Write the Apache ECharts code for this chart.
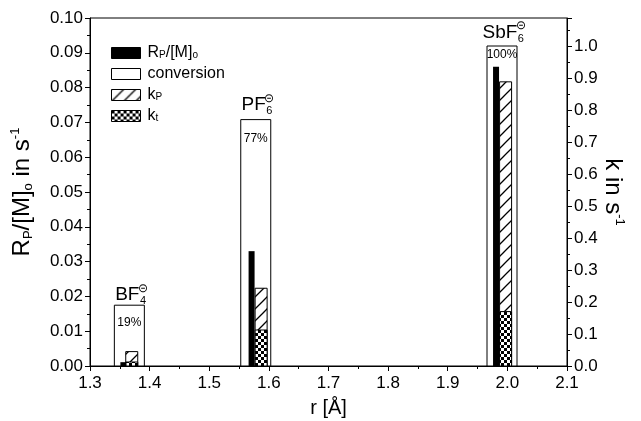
<!DOCTYPE html>
<html><head><meta charset="utf-8">
<script src="https://cdn.jsdelivr.net/npm/echarts@6/dist/echarts.min.js"></script>
<style>html,body{margin:0;padding:0;background:#fff}#c{width:641px;height:421px}</style>
</head><body><div id="c"></div>
<script>
// ---- data ----
const ionBase = ['BF', 'PF', 'SbF'];
const ionSub = ['4', '6', '6'];
const rConv = [1.366, 1.578, 1.991];        // conversion box positions (r in Å)
const conversion = [0.19, 0.77, 1.00];     // conversion (fraction, right axis)
const convLabels = ['19%', '77%', '100%'];
const rRp = [1.356, 1.571, 1.981];
const rpM = [0.0011, 0.0330, 0.0860];      // Rp/[M]o in s^-1 (left axis)
const rK = [1.370, 1.587, 1.997];
const kpVals = [0.045, 0.243, 0.888];      // kp in s^-1 (right axis)
const ktVals = [0.0125, 0.1125, 0.170];    // kt in s^-1 (right axis)

// ---- patterns ----
function hatchCanvas() {
  const c = document.createElement('canvas'); c.width = 12; c.height = 12;
  const g = c.getContext('2d');
  g.fillStyle = '#fff'; g.fillRect(0, 0, 12, 12);
  g.strokeStyle = '#000'; g.lineWidth = 1.3;
  g.beginPath();
  g.moveTo(0, 12); g.lineTo(12, 0);
  g.moveTo(-3, 3); g.lineTo(3, -3);
  g.moveTo(9, 15); g.lineTo(15, 9);
  g.stroke();
  return c;
}
function checkCanvas() {
  const c = document.createElement('canvas'); c.width = 6; c.height = 6;
  const g = c.getContext('2d');
  g.fillStyle = '#fff'; g.fillRect(0, 0, 6, 6);
  g.fillStyle = '#000'; g.fillRect(0, 0, 3, 3); g.fillRect(3, 3, 3, 3);
  return c;
}
const hatch = { image: hatchCanvas(), repeat: 'repeat' };
const check = { image: checkCanvas(), repeat: 'repeat' };

const FONT = 'Liberation Sans, Arial, sans-serif';
const mctx = document.createElement('canvas').getContext('2d');
function tw(t, size) { mctx.font = size + 'px ' + FONT; return mctx.measureText(t).width; }

function barItem(width, fill, stroke) {
  return function (params, api) {
    const x = api.value(0), v = api.value(1);
    const p0 = api.coord([x, 0]), p1 = api.coord([x, v]);
    return {
      type: 'rect',
      shape: { x: p0[0] - width / 2, y: p1[1], width: width, height: p0[1] - p1[1] },
      style: { fill: fill, stroke: stroke, lineWidth: stroke ? 1 : 0 }
    };
  };
}

const pctOffset = [17, 19, 9];
const nameGapAbove = [1, 5, 4];

function convItem(params, api) {
  const i = params.dataIndex;
  const x = api.value(0), v = api.value(1);
  const p0 = api.coord([x, 0]), p1 = api.coord([x, v]);
  const w = 30;
  const cx = p0[0];
  const base = ionBase[i], sub = ionSub[i];
  const bw = tw(base, 19), sw = tw(sub, 11);
  const left = cx - (bw + sw) / 2 + 1;
  const bottomY = p1[1] - nameGapAbove[i];
  return {
    type: 'group',
    children: [
      { type: 'rect', shape: { x: cx - w / 2, y: p1[1], width: w, height: p0[1] - p1[1] },
        style: { fill: '#fff', stroke: '#000', lineWidth: 1 } },
      { type: 'text', style: { text: convLabels[i], x: cx, y: p1[1] + pctOffset[i], align: 'center',
        verticalAlign: 'middle', font: '12px ' + FONT, fill: '#000' } },
      { type: 'text', style: { text: base, x: left, y: bottomY, align: 'left', verticalAlign: 'bottom',
        font: '19px ' + FONT, fill: '#000' } },
      { type: 'text', style: { text: sub, x: left + bw + 0.5, y: bottomY + 2, align: 'left', verticalAlign: 'bottom',
        font: '11px ' + FONT, fill: '#000' } },
      { type: 'text', style: { text: '\u229D', x: left + bw + sw / 2 + 0.5, y: bottomY - 16, align: 'center', verticalAlign: 'middle',
        font: '12px ' + FONT, fill: '#000' } }
    ]
  };
}

const legendText = {
  Rp: '{n|R}{s|P}{n|/[M]}{s|o}',
  conversion: '{n|conversion}',
  kp: '{n|k}{s|P}',
  kt: '{n|k}{s|t}'
};

const axisCommon = {
  axisLine: { show: true, onZero: false, lineStyle: { color: '#000', width: 1 } },
  axisTick: { show: true, inside: false, length: 5, lineStyle: { color: '#000' } },
  minorTick: { show: true, splitNumber: 2, length: 3, lineStyle: { color: '#000' } },
  splitLine: { show: false },
  minorSplitLine: { show: false }
};

const chart = echarts.init(document.getElementById('c'), null, { renderer: 'canvas' });
chart.setOption({
  animation: false,
  backgroundColor: '#fff',
  textStyle: { fontFamily: FONT, color: '#000' },
  grid: { left: 90, right: 74, top: 18, bottom: 55, containLabel: false, outerBoundsMode: 'none',
    show: true, borderColor: '#000', borderWidth: 1, backgroundColor: 'transparent' },
  legend: {
    orient: 'vertical', left: 106, top: 40, itemWidth: 29, itemHeight: 11, itemGap: 5,
    selectedMode: false, icon: 'rect',
    data: [
      { name: 'Rp', itemStyle: { color: '#000', borderColor: '#000', borderWidth: 1 } },
      { name: 'conversion', itemStyle: { color: '#fff', borderColor: '#000', borderWidth: 1 } },
      { name: 'kp', itemStyle: { color: hatch, borderColor: '#000', borderWidth: 1 } },
      { name: 'kt', itemStyle: { color: check, borderColor: '#000', borderWidth: 1 } }
    ],
    formatter: n => legendText[n],
    textStyle: {
      color: '#000', fontFamily: FONT, padding: [0, 0, 0, 2],
      rich: {
        n: { fontSize: 16, fontFamily: FONT, color: '#000', lineHeight: 15 },
        s: { fontSize: 10, fontFamily: FONT, color: '#000', verticalAlign: 'bottom', lineHeight: 10 }
      }
    }
  },
  xAxis: Object.assign({}, axisCommon, {
    type: 'value', min: 1.3, max: 2.1, interval: 0.1,
    axisLabel: { formatter: v => v.toFixed(1), fontSize: 17, color: '#000', margin: 9, fontFamily: FONT },
    name: 'r [Å]', nameLocation: 'middle', nameGap: 32,
    nameTextStyle: { fontSize: 20, color: '#000', fontFamily: FONT }
  }),
  yAxis: [
    Object.assign({}, axisCommon, {
      type: 'value', min: 0, max: 0.1, interval: 0.01, position: 'left',
      axisLabel: { formatter: v => v.toFixed(2), fontSize: 17, color: '#000', margin: 7, fontFamily: FONT },
      name: '{n|R}{s|P}{n|/[M]}{s|o}{n| in s}{u|-1}', nameLocation: 'middle', nameGap: 55, nameRotate: 90,
      nameTextStyle: {
        color: '#000', fontFamily: FONT,
        rich: {
          n: { fontSize: 24, fontFamily: FONT, color: '#000', lineHeight: 26 },
          s: { fontSize: 13, fontFamily: FONT, color: '#000', verticalAlign: 'bottom', lineHeight: 13 },
          u: { fontSize: 13, fontFamily: FONT, color: '#000', verticalAlign: 'top', lineHeight: 13 }
        }
      }
    }),
    Object.assign({}, axisCommon, {
      type: 'value', min: 0, max: 1.0875, interval: 0.1, position: 'right',
      axisLabel: { formatter: v => (v > 1.0001 ? '' : v.toFixed(1)), showMaxLabel: false, fontSize: 17, color: '#000', margin: 7, fontFamily: FONT },
      name: '{n|k in s}{u|-1}', nameLocation: 'middle', nameGap: 33, nameRotate: -90, nameMoveOverlap: false,
      nameTextStyle: {
        color: '#000', fontFamily: FONT,
        rich: {
          n: { fontSize: 24, fontFamily: FONT, color: '#000', lineHeight: 26 },
          u: { fontSize: 13, fontFamily: FONT, color: '#000', verticalAlign: 'top', lineHeight: 13 }
        }
      }
    })
  ],
  series: [
    { name: 'conversion', type: 'custom', yAxisIndex: 1, renderItem: convItem,
      itemStyle: { color: '#fff' }, data: rConv.map((r, i) => [r, conversion[i]]) },
    { name: 'kp', type: 'custom', yAxisIndex: 1, renderItem: barItem(12, hatch, '#000'),
      itemStyle: { color: hatch }, data: rK.map((r, i) => [r, kpVals[i]]) },
    { name: 'kt', type: 'custom', yAxisIndex: 1, renderItem: barItem(12, check, '#000'),
      itemStyle: { color: check }, data: rK.map((r, i) => [r, ktVals[i]]) },
    { name: 'Rp', type: 'custom', yAxisIndex: 0, renderItem: barItem(6, '#000', null),
      itemStyle: { color: '#000' }, data: rRp.map((r, i) => [r, rpM[i]]) }
  ]
});
</script>
</body></html>
